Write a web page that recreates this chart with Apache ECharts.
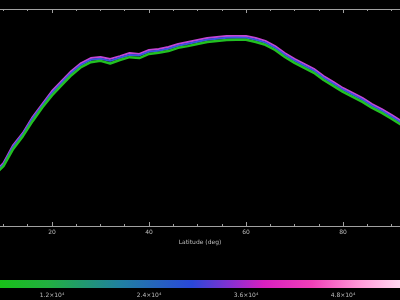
<!DOCTYPE html>
<html>
<head>
<meta charset="utf-8">
<script src="https://cdn.jsdelivr.net/npm/echarts@6/dist/echarts.min.js"></script>
<style>html,body{margin:0;padding:0;background:#000;}#c{width:400px;height:300px;}</style>
</head>
<body>
<div id="c"></div>
<script>
var latitudes = [8,10,12,14,16,18,20,22,24,26,28,30,32,34,36,38,40,42,44,46,48,50,52,54,56,58,60,62,64,66,68,70,72,74,76,78,80,82,84,86,88,90,92];
var seriesMagenta = [24.4,29.0,37.3,42.9,50.2,56.2,62.2,66.8,71.4,75.1,77.4,77.9,77.0,78.3,79.7,79.3,81.1,81.6,82.5,83.9,84.8,85.7,86.6,87.1,87.6,87.6,87.6,86.6,85.3,82.9,79.7,77.0,74.7,72.4,69.1,66.4,63.6,61.3,59.0,56.2,53.9,51.2,48.4];
var seriesBlue = [23.9,28.4,36.6,42.3,49.5,55.5,61.3,66.0,70.6,74.3,76.6,77.1,76.1,77.5,78.8,78.6,80.3,80.8,81.7,83.1,84.0,84.9,85.8,86.3,86.8,86.9,86.8,85.8,84.5,82.1,78.9,76.2,73.9,71.6,68.3,65.6,62.8,60.5,58.2,55.4,53.1,50.4,47.6];
var seriesGreen = [23.3,27.6,35.5,41.4,48.3,54.6,60.2,64.9,69.5,73.2,75.5,76.1,74.9,76.5,77.8,77.4,79.3,79.8,80.6,82.1,82.9,83.9,84.8,85.3,85.7,85.8,85.8,84.8,83.5,81.1,77.9,75.2,72.9,70.6,67.3,64.6,61.8,59.5,57.2,54.4,52.1,49.4,46.6];
var latRange = [9.28, 91.75];
var latMajor = [20,40,60,80];
var latMinor = [10,15,25,30,35,45,50,55,65,70,75,85,90];
var colorbarRange = [0.557, 5.505];
var colorbarMajor = [1.2,2.4,3.6,4.8];
var colorbarMinor = [0.6,1.8,3.0,4.2,5.4];
var colorbarUnit = '×10⁴';
var axisTitle = 'Latitude (deg)';

function pairs(ys){ return latitudes.map(function(x,i){ return [x, ys[i]]; }); }

var chart = echarts.init(document.getElementById('c'), null, {renderer:'canvas'});
var axisCol = '#a0a0a0';
var lblCol = '#bdbdbd';
var font = 'DejaVu Sans';

function latAxis(pos, major, withLabels){
  var ax = {type:'value', gridIndex:0, min:latRange[0], max:latRange[1], position:pos,
    axisLine:{show:major, onZero:false, lineStyle:{color:axisCol, width:1}},
    axisTick:{show:true, inside:true, length: major?4:2, customValues: major?latMajor:latMinor, lineStyle:{color:axisCol}},
    axisLabel:{show:withLabels, customValues: latMajor, color:lblCol, fontSize:6, margin:3, fontFamily:font,
      hideOverlap:false,
      formatter:function(v){ return latMajor.indexOf(v)>=0 ? String(v) : ''; }},
    splitLine:{show:false}};
  if (withLabels) {
    ax.name = axisTitle; ax.nameLocation = 'middle'; ax.nameGap = 11;
    ax.nameTextStyle = {color:lblCol, fontSize:6, fontFamily:font};
  }
  return ax;
}

var option = {
  backgroundColor: '#000',
  animation: false,
  grid: [
    {left: 0, right: 0, top: 9, bottom: 74, containLabel: false},
    {left: 0, right: 0, top: 280, height: 8, containLabel: false}
  ],
  xAxis: [
    latAxis('bottom', true, true),
    latAxis('bottom', false, false),
    latAxis('top', true, false),
    latAxis('top', false, false),
    {type:'value', gridIndex:1, min:colorbarRange[0], max:colorbarRange[1], position:'bottom',
     axisLine:{show:false},
     axisTick:{show:true, inside:true, length:3, customValues: colorbarMajor.concat(colorbarMinor), lineStyle:{color:'rgba(255,255,255,0.35)'}},
     axisLabel:{show:true, customValues: colorbarMajor, color:lblCol, fontSize:6, margin:4, fontFamily:font,
       formatter:function(v){ return v.toFixed(1)+colorbarUnit; }},
     splitLine:{show:false}}
  ],
  yAxis: [
    {type:'value', gridIndex:0, min:0, max:100, show:false},
    {type:'value', gridIndex:1, min:0, max:1, show:false}
  ],
  series: [
    {type:'line', xAxisIndex:0, yAxisIndex:0, data:pairs(seriesMagenta), showSymbol:false,
     lineStyle:{color:'#c445d6', width:2}, z:2},
    {type:'line', xAxisIndex:0, yAxisIndex:0, data:pairs(seriesBlue), showSymbol:false,
     lineStyle:{color:'#3a55e0', width:2}, z:3},
    {type:'line', xAxisIndex:0, yAxisIndex:0, data:pairs(seriesGreen), showSymbol:false,
     lineStyle:{color:'#22c022', width:2.5}, z:4},
    {type:'custom', xAxisIndex:4, yAxisIndex:1, z:1, data:[[colorbarRange[0], colorbarRange[1]]],
     renderItem:function(params, api){
       var p0 = api.coord([api.value(0), 1]);
       var p1 = api.coord([api.value(1), 0]);
       return {type:'rect', shape:{x:p0[0], y:p0[1], width:p1[0]-p0[0], height:p1[1]-p0[1]},
         style:{fill:new echarts.graphic.LinearGradient(0,0,1,0,[
           {offset:0, color:'#18c018'},
           {offset:0.12, color:'#22b040'},
           {offset:0.3, color:'#2080a0'},
           {offset:0.48, color:'#2a48d8'},
           {offset:0.58, color:'#8a2fd0'},
           {offset:0.66, color:'#d820c0'},
           {offset:0.78, color:'#f040b8'},
           {offset:0.9, color:'#ff9ad8'},
           {offset:1, color:'#ffd8f0'}
         ])}};
     }}
  ]
};
chart.setOption(option);
</script>
</body>
</html>
